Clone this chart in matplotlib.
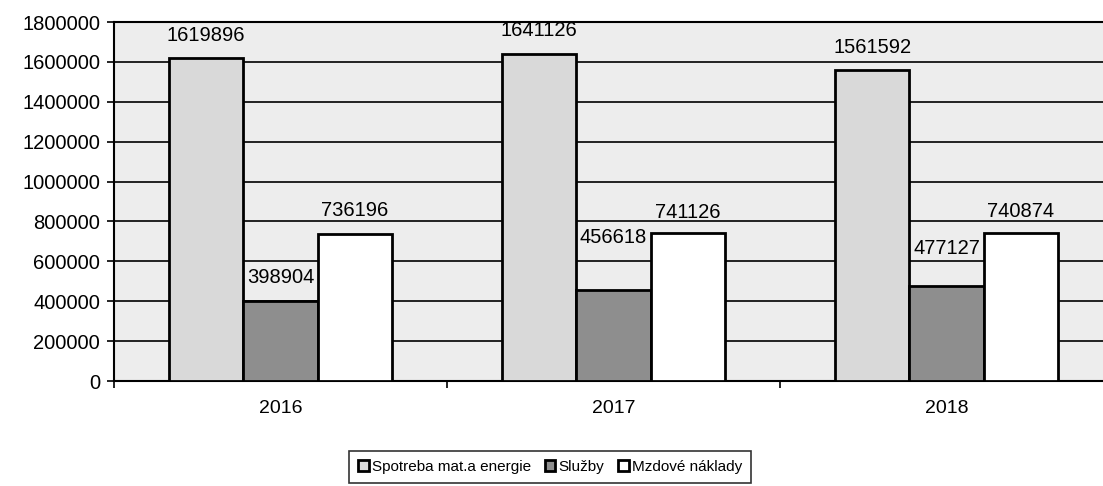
import matplotlib
matplotlib.use("Agg")
import matplotlib.pyplot as plt
import numpy as np

years = ["2016", "2017", "2018"]
series_names = ["Spotreba mat.a energie", "Služby", "Mzdové náklady"]
spotreba = [1619896, 1641126, 1561592]
sluzby = [398904, 456618, 477127]
mzdove = [736196, 741126, 740874]
yticks = [0, 200000, 400000, 600000, 800000, 1000000, 1200000, 1400000, 1600000, 1800000]

colors = ["#d9d9d9", "#8e8e8e", "#ffffff"]
# label offsets (points above bar top)
label_offsets = [[16, 17, 16], [17, 38, 27], [17, 15, 16]]

plt.rcParams['font.family'] = ['Liberation Sans', 'DejaVu Sans']

fig = plt.figure(figsize=(11.03, 4.86), dpi=100)
fig.patch.set_facecolor("white")
ax = fig.add_axes([114/1103, 105/486, 999/1103, 359/486])
ax.set_facecolor("#ededed")

x = np.arange(len(years))
w = 0.223
all_series = [spotreba, sluzby, mzdove]
for i, (vals, name, c) in enumerate(zip(all_series, series_names, colors)):
    pos = x + (i - 1) * w
    ax.bar(pos, vals, width=w, color=c, edgecolor="black", linewidth=2,
           label=name, zorder=3)
    for j, (p, v) in enumerate(zip(pos, vals)):
        ax.annotate(str(v), (p, v), xytext=(0, label_offsets[i][j]),
                    textcoords="offset points", ha="center", va="center",
                    fontsize=14.5, zorder=4)

ax.set_xlim(-0.5, 2.5)
ax.set_ylim(0, 1800000)
ax.set_yticks(yticks)
ax.set_yticklabels([str(t) for t in yticks], fontsize=14.5)
ax.yaxis.grid(True, color="black", linewidth=1.2, zorder=1)
ax.set_axisbelow(True)

ax.set_xticks(x)
ax.set_xticklabels(years, fontsize=14)
ax.tick_params(axis="x", which="major", length=0, pad=14)
ax.set_xticks([-0.5, 0.5, 1.5, 2.5], minor=True)
ax.tick_params(axis="x", which="minor", length=5, width=1.2, direction="out")
ax.tick_params(axis="y", length=5, width=1.2, direction="out", pad=5)

for s in ["left", "bottom", "top"]:
    ax.spines[s].set_linewidth(1.5)
    ax.spines[s].set_color("black")
ax.spines["right"].set_visible(False)

leg = fig.legend(loc="lower center", bbox_to_anchor=(550/1103, 3/486), ncol=3,
                 fontsize=11, frameon=True, fancybox=False, edgecolor="black",
                 handlelength=0.7, handleheight=0.7, handletextpad=0.2,
                 columnspacing=0.9, borderpad=0.6, borderaxespad=0)
leg.get_frame().set_linewidth(1.2)

fig.savefig("out.png", dpi=100)
